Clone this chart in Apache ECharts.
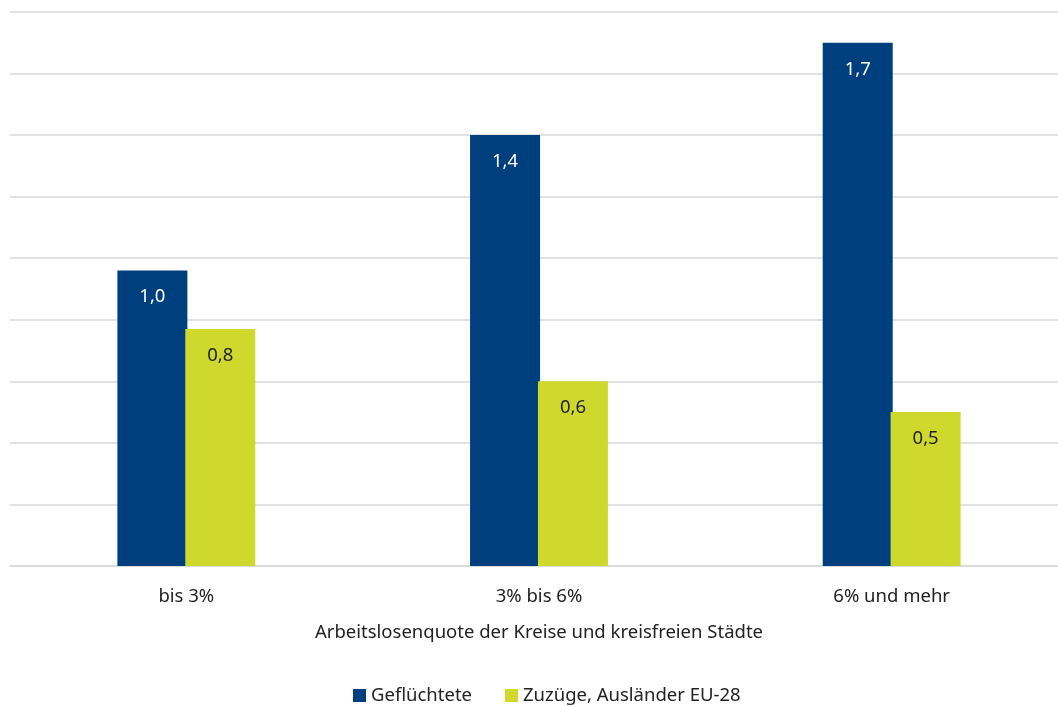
<!DOCTYPE html>
<html><head><meta charset="utf-8">
<script src="https://cdn.jsdelivr.net/npm/echarts@6/dist/echarts.min.js"></script>
<style>html,body{margin:0;padding:0;background:#fff}#c{width:1058px;height:707px}</style>
</head><body><div id="c"></div>
<script>
const categories = ['bis 3%', '3% bis 6%', '6% und mehr'];
const seriesNames = ['Geflüchtete', 'Zuzüge, Ausländer EU-28'];
const gefluechtete = [0.96, 1.40, 1.70];
const zuzuege = [0.77, 0.60, 0.50];
const axisTitle = 'Arbeitslosenquote der Kreise und kreisfreien Städte';
const FONT = 'Noto Sans';
const chart = echarts.init(document.getElementById('c'));
const fmt = p => p.value.toFixed(1).replace('.', ',');
chart.setOption({
  animation: false,
  textStyle: { fontFamily: FONT },
  grid: { left: 10, right: -10, top: 12, bottom: 141, outerBoundsMode: 'none', containLabel: false },
  legend: {
    bottom: -3, left: 348, itemWidth: 13, itemHeight: 13, itemGap: 33,
    icon: 'rect',
    textStyle: { fontFamily: FONT, fontSize: 18.5, color: '#222' },
    data: seriesNames
  },
  xAxis: {
    type: 'category', data: categories,
    axisLine: { lineStyle: { color: '#d9d9d9', width: 1.5 } },
    axisTick: { show: false },
    axisLabel: { fontFamily: FONT, fontSize: 18.5, color: '#222', margin: 21 },
    name: axisTitle, nameLocation: 'middle', nameGap: 57,
    nameTextStyle: { fontFamily: FONT, fontSize: 18.5, color: '#222' }
  },
  yAxis: {
    type: 'value', min: 0, max: 1.8, interval: 0.2,
    axisLabel: { show: false }, axisLine: { show: false }, axisTick: { show: false },
    splitLine: { lineStyle: { color: '#d9d9d9', width: 1.5 } }
  },
  series: [
    { name: seriesNames[0], type: 'bar', data: gefluechtete, barWidth: 70, barGap: '-3%',
      itemStyle: { color: '#003f7d' },
      label: { show: true, position: 'insideTop', distance: 17, formatter: fmt, color: '#fff', fontFamily: FONT, fontSize: 18.5 } },
    { name: seriesNames[1], type: 'bar', data: zuzuege, barWidth: 70,
      itemStyle: { color: '#cfd82d' },
      label: { show: true, position: 'insideTop', distance: 17, formatter: fmt, color: '#222', fontFamily: FONT, fontSize: 18.5 } }
  ]
});
</script></body></html>
